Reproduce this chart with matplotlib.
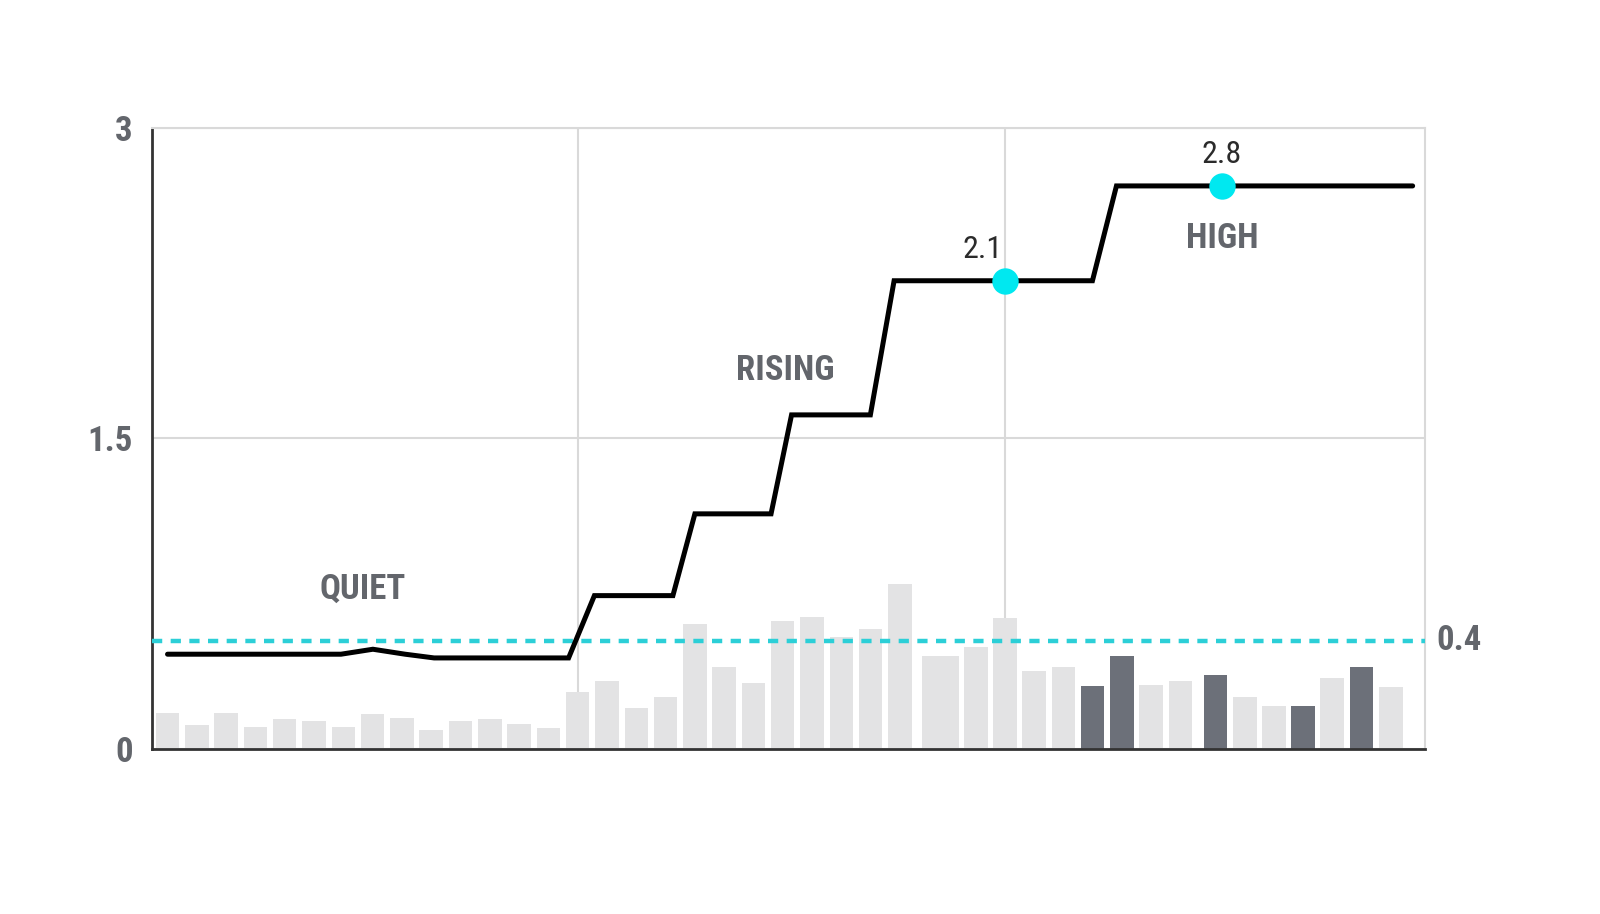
import numpy as np
import matplotlib
matplotlib.use('Agg')
import matplotlib.pyplot as plt
import matplotlib.transforms as mtransforms
from matplotlib import font_manager

# condensed font if there is one, otherwise Roboto
names = set(f.name for f in font_manager.fontManager.ttflist)
FONT = [n for n in ['Roboto Condensed', 'Liberation Sans Narrow', 'Roboto'] if n in names]
FONT = FONT + ['DejaVu Sans']
plt.rcParams['font.family'] = FONT
print(FONT)

# ---- data ----
bar_x = [0, 1, 2, 3, 4, 5, 6, 7, 8, 9, 10, 11, 12, 13, 14, 15, 16, 17, 18, 19,
         20, 21, 22, 23, 24, 25, 26.38, 27.59, 28.58, 29.57, 30.58, 31.58, 32.58,
         33.57, 34.58, 35.77, 36.77, 37.76, 38.75, 39.74, 40.75, 41.76]
bar_val = [0.174, 0.118, 0.174, 0.107, 0.147, 0.134, 0.105, 0.169, 0.151, 0.092,
           0.137, 0.147, 0.120, 0.100, 0.274, 0.327, 0.198, 0.249, 0.603, 0.396,
           0.319, 0.618, 0.640, 0.543, 0.579, 0.796, 0.447, 0.495, 0.633, 0.379,
           0.395, 0.305, 0.447, 0.308, 0.327, 0.357, 0.251, 0.210, 0.210, 0.341,
           0.396, 0.300]
bar_w = [0.8] * 26 + [1.26] + [0.8] * 15
dark_idx = [31, 32, 35, 38, 40]

line_t = [0, 5.92, 7.01, 8.11, 9.1, 13.69, 14.57, 17.25, 18.0, 20.6, 21.3,
          23.99, 24.8, 31.57, 32.39, 42.5]
line_v = [0.458, 0.458, 0.482, 0.458, 0.44, 0.44, 0.741, 0.741, 1.136, 1.136,
          1.614, 1.614, 2.262, 2.262, 2.72, 2.72]

dot_t = [28.58, 35.99]
dot_v = [2.262, 2.72]
dot_lbl = ['2.1', '2.8']

threshold = 0.522
threshold_lbl = '0.4'

phases = ['QUIET', 'RISING', 'HIGH']
phase_t = [6.67, 21.1, 35.99]
phase_v = [0.773, 1.83, 2.464]

yticks = [0, 1.5, 3]
ytick_lbl = ['0', '1.5', '3']
vgrid = [14, 28.58]

# ---- colours ----
c_text = '#63666c'
c_light = '#e3e3e4'
c_dark = '#6c7079'
c_cyan = '#2ccfd7'
c_dot = '#00e8f0'
c_grid = '#d9d9d9'

condensed = 'Roboto Condensed' not in FONT and 'Liberation Sans Narrow' not in FONT
fs_big = 22 if condensed else 25
fs_num = 20 if condensed else 23

fig = plt.figure(figsize=(16, 9.14), dpi=100)
ax = fig.add_axes([0.095, 0.1805, 0.7956, 0.6795])

cols = [c_dark if i in dark_idx else c_light for i in range(len(bar_val))]
ax.bar(bar_x, bar_val, width=bar_w, color=cols, zorder=1, linewidth=0)

ax.axhline(threshold, color=c_cyan, lw=3.2, ls=(0, (2.3, 1.9)), zorder=3)
ax.plot(line_t, line_v, color='black', lw=3.6, zorder=4,
        solid_joinstyle='miter', solid_capstyle='round')
ax.plot(dot_t, dot_v, 'o', ms=19, color=c_dot, mec='none', zorder=5)

for t, v, s in zip(dot_t, dot_v, dot_lbl):
    ax.text(t - 0.75 if s == '2.1' else t, v + 0.15, s, ha='center', va='center',
            fontsize=fs_num, color='#2b2b2b', family=FONT, zorder=6)

for t, v, s in zip(phase_t, phase_v, phases):
    ax.text(t, v, s, ha='center', va='center', fontsize=fs_big, fontweight='bold',
            color=c_text, family=FONT, zorder=6)

trans = mtransforms.blended_transform_factory(ax.transAxes, ax.transData)
ax.text(1.009, threshold, threshold_lbl, transform=trans, ha='left', va='center',
        fontsize=fs_big, fontweight='bold', color=c_text, family=FONT)

ax.set_xlim(-0.53, 42.92)
ax.set_ylim(0, 3)
ax.set_yticks(yticks)
ax.set_yticklabels(ytick_lbl)
ax.set_xticks(vgrid)
ax.set_xticklabels([])
ax.tick_params(length=0, pad=14)
for lb in ax.get_yticklabels():
    lb.set_fontsize(fs_big)
    lb.set_fontweight('bold')
    lb.set_color(c_text)

ax.grid(True, color=c_grid, lw=1.5, zorder=0)
ax.set_axisbelow(True)

ax.spines['left'].set_color('#333333')
ax.spines['bottom'].set_color('#333333')
ax.spines['left'].set_linewidth(2)
ax.spines['bottom'].set_linewidth(2)
ax.spines['top'].set_color(c_grid)
ax.spines['right'].set_color(c_grid)
ax.spines['top'].set_linewidth(1.5)
ax.spines['right'].set_linewidth(1.5)

fig.savefig('out.png', dpi=100, facecolor='white')
